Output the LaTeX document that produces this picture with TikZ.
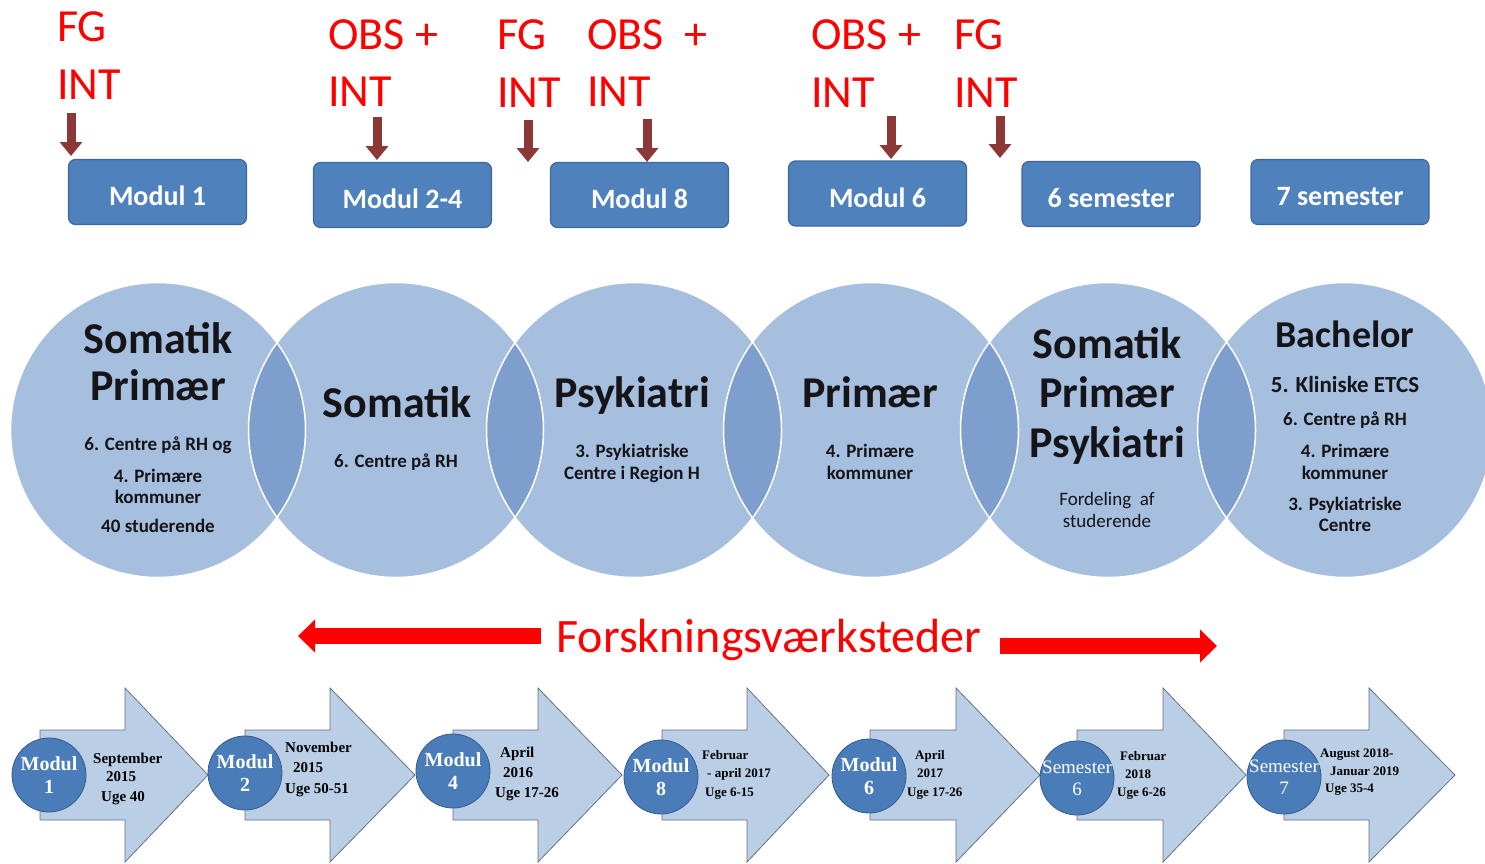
\documentclass[tikz,border=0pt]{standalone}
\usepackage{fontspec}
\setmainfont{Carlito}
\newfontfamily\tnr{Liberation Serif}
\usetikzlibrary{arrows.meta}
\definecolor{boxblue}{RGB}{79,129,189}
\definecolor{boxedge}{RGB}{62,104,156}
\definecolor{brownarr}{RGB}{140,56,54}
\definecolor{circfill}{RGB}{167,191,222}
\definecolor{circlens}{RGB}{126,159,205}
\definecolor{arrfill}{RGB}{186,206,230}
\definecolor{arredge}{RGB}{100,113,135}
\definecolor{modblue}{RGB}{74,124,186}
\definecolor{modedge}{RGB}{55,90,140}
\definecolor{ctext}{RGB}{20,20,25}
\tikzset{
  redlbl/.style={text=red, font=\fontsize{46}{50}\selectfont, anchor=base west, inner sep=0pt},
  brarrow/.style={draw=brownarr, line width=9pt, -{Triangle[width=22pt,length=14pt]}},
  topbox/.style={rectangle, rounded corners=7pt, fill=boxblue, draw=boxedge, line width=1.2pt,
    minimum width=178pt, minimum height=65pt, text=white, text height=27pt, text depth=0pt,
    font=\bfseries\fontsize{28}{32}\selectfont},
  ctitle/.style={text=ctext, font=\bfseries\fontsize{44}{48}\selectfont, anchor=base, inner sep=0pt},
  cbach/.style={text=ctext, font=\bfseries\fontsize{38}{42}\selectfont, anchor=base, inner sep=0pt},
  cmid/.style={text=ctext, font=\bfseries\fontsize{23}{26}\selectfont, anchor=base, inner sep=0pt},
  csmall/.style={text=ctext, font=\bfseries\fontsize{19}{22}\selectfont, anchor=base, inner sep=0pt},
  creg/.style={text=ctext, font=\fontsize{19}{22}\selectfont, anchor=base, inner sep=0pt},
  redarr/.style={draw=red, line width=16pt, -{Triangle[width=32pt,length=17pt]}},
  forsk/.style={text=red, font=\fontsize{48}{52}\selectfont, anchor=base, inner sep=0pt},
  blk/.style={fill=arrfill, draw=arredge, line width=0.8pt, line join=miter},
  modc/.style={fill=modblue, draw=modedge, line width=0.8pt},
  modtxt/.style={text=white, font=\tnr\bfseries\fontsize{20}{23}\selectfont, align=center, inner sep=0pt},
  semtxt/.style={text=white, font=\tnr\fontsize{19}{22}\selectfont, align=center, inner sep=0pt},
  dtxt/.style={text=black, font=\tnr\bfseries\fontsize{15}{17}\selectfont, anchor=base west, inner sep=0pt},
  dtxs/.style={text=black, font=\tnr\bfseries\fontsize{13}{15}\selectfont, anchor=base west, inner sep=0pt}
}
\begin{document}
\begin{tikzpicture}[x=1pt,y=-1pt]
\useasboundingbox (0,0) rectangle (1485,864);
\fill[white] (0,0) rectangle (1485,864);

% ---------- big overlapping circles ----------
\foreach \c in {158,396,634,871,1108,1345}
  \fill[circfill] (\c,430) circle (147.5);
\foreach \a/\b in {158/396,396/634,634/871,871/1108,1108/1345}{
  \begin{scope}
    \clip (\a,430) circle (147.5);
    \fill[circlens] (\b,430) circle (147.5);
  \end{scope}
}
\foreach \c in {158,396,634,871,1108,1345}
  \draw[white, line width=1.5pt] (\c,430) circle (147.5);

% circle 1
\node[ctitle] (t1a) at (158,353) {Somatik};
\node[ctitle] (t1b) at (158,400) {Primær};
\node[csmall] (t1c) at (158,450) {6. Centre på RH og};
\node[csmall] (t1d) at (158,482) {4. Primære};
\node[csmall] (t1e) at (158,503) {kommuner};
\node[csmall] (t1f) at (158,532) {40 studerende};
% circle 2
\node[ctitle] (t2a) at (397,417) {Somatik};
\node[csmall] (t2b) at (396,467) {6. Centre på RH};
% circle 3
\node[ctitle] (t3a) at (632,407) {Psykiatri};
\node[csmall] (t3b) at (632,457) {3. Psykiatriske};
\node[csmall] (t3c) at (632,479) {Centre i Region H};
% circle 4
\node[ctitle] (t4a) at (870,407) {Primær};
\node[csmall] (t4b) at (870,457) {4. Primære};
\node[csmall] (t4c) at (870,479) {kommuner};
% circle 5
\node[ctitle] (t5a) at (1107,358) {Somatik};
\node[ctitle] (t5b) at (1107,407) {Primær};
\node[ctitle] (t5c) at (1107,457) {Psykiatri};
\node[creg] (t5d) at (1107,505) {Fordeling~~af};
\node[creg] (t5e) at (1107,527) {studerende};
% circle 6
\node[cbach] (t6a) at (1345,347) {Bachelor};
\node[cmid] (t6b) at (1345,392) {5. Kliniske ETCS};
\node[csmall] (t6c) at (1345,425) {6. Centre på RH};
\node[csmall] (t6d) at (1345,457) {4. Primære};
\node[csmall] (t6e) at (1345,479) {kommuner};
\node[csmall] (t6f) at (1345,510) {3. Psykiatriske};
\node[csmall] (t6g) at (1345,531) {Centre};

% ---------- top boxes ----------
\node[topbox] (b1) at (157.5,192) {Modul 1};
\node[topbox] (b2) at (402.5,195) {Modul 2-4};
\node[topbox] (b3) at (639.5,195) {Modul 8};
\node[topbox] (b4) at (877.5,193.5) {Modul 6};
\node[topbox] (b5) at (1111,194) {6 semester};
\node[topbox] (b6) at (1340,192) {7 semester};

% ---------- red labels ----------
\node[redlbl] (l1a) at (57,42) {FG};
\node[redlbl] (l1b) at (57,100) {INT};
\node[redlbl] (l2a) at (328,50) {OBS +};
\node[redlbl] (l2b) at (328,107) {INT};
\node[redlbl] (l3a) at (497,50) {FG};
\node[redlbl] (l3b) at (497,108) {INT};
\node[redlbl] (l4a) at (587,50) {OBS~~+};
\node[redlbl] (l4b) at (587,107) {INT};
\node[redlbl] (l5a) at (811,50) {OBS +};
\node[redlbl] (l5b) at (811,108) {INT};
\node[redlbl] (l6a) at (954,50) {FG};
\node[redlbl] (l6b) at (954,108) {INT};

% ---------- brown arrows ----------
\coordinate (p1s) at (71,113);  \coordinate (p1e) at (71,156);
\coordinate (p2s) at (377,117); \coordinate (p2e) at (377,160);
\coordinate (p3s) at (528,120); \coordinate (p3e) at (528,162);
\coordinate (p4s) at (647,119); \coordinate (p4e) at (647,162);
\coordinate (p5s) at (891,116); \coordinate (p5e) at (891,159);
\coordinate (p6s) at (1000,116); \coordinate (p6e) at (1000,158);
\foreach \i in {1,...,6} \draw[brarrow] (p\i s) -- (p\i e);

% ---------- Forskningsvaerksteder ----------
\node[forsk] (fv) at (769,652) {Forskningsværksteder};
\coordinate (fl1) at (541,636); \coordinate (fl2) at (298,636);
\coordinate (fr1) at (1000,646); \coordinate (fr2) at (1217,646);
\draw[redarr] (fl1) -- (fl2);
\draw[redarr] (fr1) -- (fr2);

% ---------- bottom block arrows ----------
\foreach \l/\h/\t in {40/125/208, 245/330/415, 453/538/622, 662/747/829, 870/956/1040, 1077/1163/1246, 1284/1369/1455}
  \filldraw[blk] (\l,730) -- (\h,730) -- (\h,688) -- (\t,775) -- (\h,862) -- (\h,820) -- (\l,820) -- cycle;
\foreach \c/\y in {49/775, 245/773, 453/771, 661/777, 869/776, 1077/778, 1284/777}
  \filldraw[modc] (\c,\y) circle (37);

\node[modtxt] (m1) at (49,775) {Modul\\1};
\node[modtxt] (m2) at (245,773) {Modul\\2};
\node[modtxt] (m3) at (453,771) {Modul\\4};
\node[modtxt] (m4) at (661,777) {Modul\\8};
\node[modtxt] (m5) at (869,776) {Modul\\6};
\node[semtxt] (m6) at (1077,778) {Semester\\6};
\node[semtxt] (m7) at (1284,777) {Semester\\7};

\node[dtxt] (d1a) at (93,763) {September};
\node[dtxt] (d1b) at (106,781) {2015};
\node[dtxt] (d1c) at (101,801) {Uge 40};
\node[dtxt] (d2a) at (285,752) {November};
\node[dtxt] (d2b) at (293,772) {2015};
\node[dtxt] (d2c) at (285,793) {Uge 50-51};
\node[dtxt] (d3a) at (500,757) {April};
\node[dtxt] (d3b) at (503,777) {2016};
\node[dtxt] (d3c) at (495,797) {Uge 17-26};
\node[dtxs] (d4a) at (702,759) {Februar};
\node[dtxs] (d4b) at (707,777) {- april 2017};
\node[dtxs] (d4c) at (705,796) {Uge 6-15};
\node[dtxs] (d5a) at (915,759) {April};
\node[dtxs] (d5b) at (917,777) {2017};
\node[dtxs] (d5c) at (907,796) {Uge 17-26};
\node[dtxs] (d6a) at (1120,760) {Februar};
\node[dtxs] (d6b) at (1125,778) {2018};
\node[dtxs] (d6c) at (1117,796) {Uge 6-26};
\node[dtxs] (d7a) at (1320,757) {August 2018-};
\node[dtxs] (d7b) at (1330,775) {Januar 2019};
\node[dtxs] (d7c) at (1325,792) {Uge 35-4};
\end{tikzpicture}
\end{document}
